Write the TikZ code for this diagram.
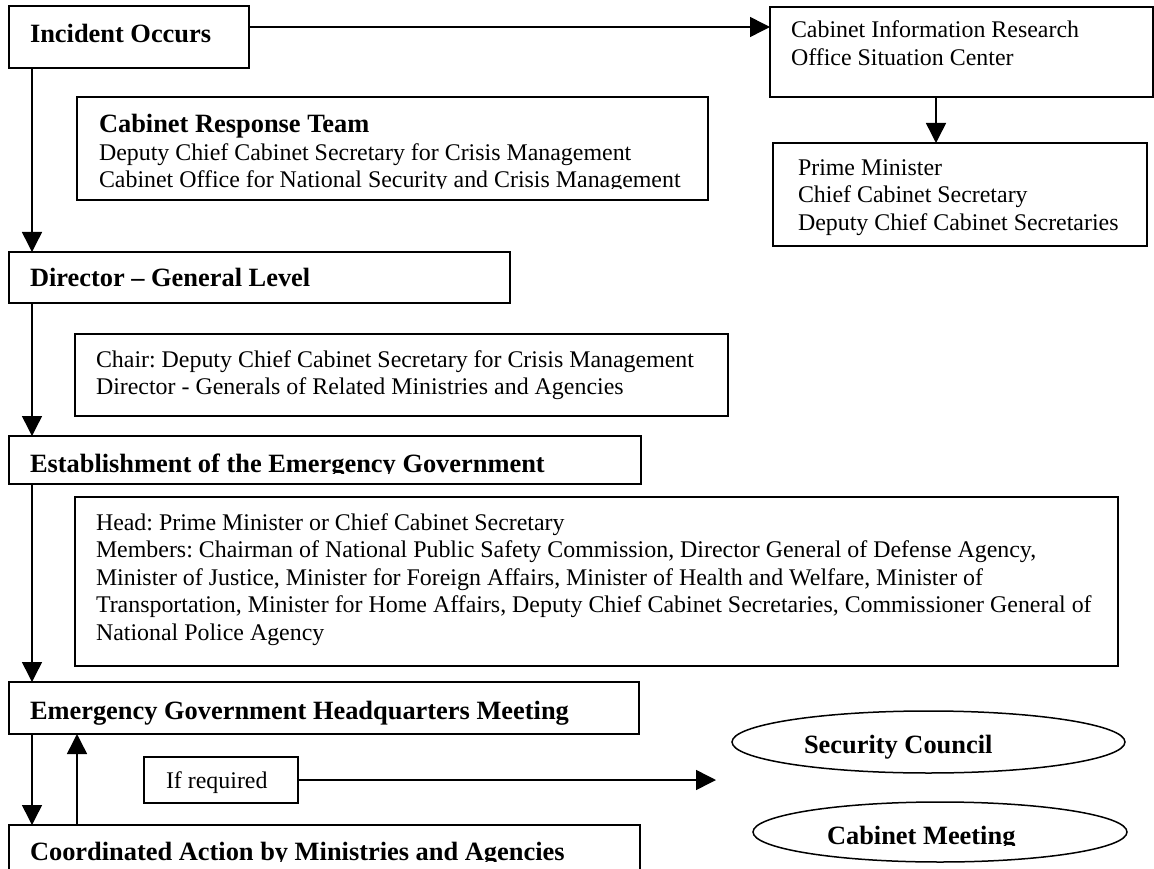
\documentclass[tikz,border=0pt]{standalone}
\usepackage{fontspec}
\setmainfont{Liberation Serif}
\usetikzlibrary{arrows.meta,shapes.geometric}
\frenchspacing
\begin{document}
\begin{tikzpicture}[x=1pt,y=-1pt,
  box/.style={draw, line width=1.5pt, rectangle, inner sep=0pt, outer sep=0pt, anchor=north west},
  oval/.style={draw, line width=1.5pt, ellipse, inner sep=0pt, outer sep=0pt},
  txt/.style={anchor=base west, inner sep=0pt, outer sep=0pt, font=\fontsize{23.9}{27.6}\selectfont},
  btxt/.style={anchor=base west, inner sep=0pt, outer sep=0pt, font=\fontsize{26.4}{30}\selectfont\bfseries},
  arr/.style={line width=1.5pt, -{Triangle[length=20pt,width=20pt]}}]
\clip (0,0) rectangle (1154,869);
\useasboundingbox (0,0) rectangle (1154,869);
\fill[white] (0,0) rectangle (1154,869);

% boxes
\node[box, minimum width=240, minimum height=62] (inc) at (9,6) {};
\node[box, minimum width=383, minimum height=90] (info) at (770,7) {};
\node[box, minimum width=631, minimum height=103] (resp) at (77,97) {};
\node[box, minimum width=374, minimum height=103] (prime) at (773,143) {};
\node[box, minimum width=501, minimum height=51] (dir) at (9,252) {};
\node[box, minimum width=653, minimum height=82] (chair) at (75,334) {};
\node[box, minimum width=632, minimum height=48] (estab) at (9,436) {};
\node[box, minimum width=1043, minimum height=169] (head) at (75,497) {};
\node[box, minimum width=630, minimum height=52] (egh) at (9,682) {};
\node[box, minimum width=154, minimum height=46] (ifr) at (144,757) {};
\node[box, minimum width=631, minimum height=90] (coord) at (9,825) {};
\node[oval, minimum width=393, minimum height=62] (sc) at (928.5,742) {};
\node[oval, minimum width=374, minimum height=60] (cm) at (940,832) {};

% texts
\node[btxt] (tinc) at (30,43) {Incident Occurs};
\node[txt] (tinfo1) at (791,38) {Cabinet Information Research};
\node[txt] (tinfo2) at (791,65.6) {Office Situation Center};
\node[btxt] (tresp1) at (99,133) {Cabinet Response Team};
\node[txt] (tresp2) at (99,161) {Deputy Chief Cabinet Secretary for Crisis Management};
\begin{scope}
\clip (77,97) rectangle (708,189);
\node[txt] (tresp3) at (99,188) {Cabinet Office for National Security and Crisis Management};
\end{scope}
\node[txt] (tprime1) at (798,176) {Prime Minister};
\node[txt] (tprime2) at (798,203) {Chief Cabinet Secretary};
\node[txt] (tprime3) at (798,230) {Deputy Chief Cabinet Secretaries};
\node[btxt] (tdir) at (30,286) {Director -- General Level};
\node[txt] (tchair1) at (96,367) {Chair: Deputy Chief Cabinet Secretary for Crisis Management};
\node[txt] (tchair2) at (96,394) {Director - Generals of Related Ministries and Agencies};
\begin{scope}
\clip (9,436) rectangle (641,473);
\node[btxt] (testab) at (30,472) {Establishment of the Emergency Government};
\end{scope}
\node[txt] (thead1) at (96,530) {Head: Prime Minister or Chief Cabinet Secretary};
\node[txt] (thead2) at (96,557.6) {Members: Chairman of National Public Safety Commission, Director General of Defense Agency,};
\node[txt] (thead3) at (96,585.2) {Minister of Justice, Minister for Foreign Affairs, Minister of Health and Welfare, Minister of};
\node[txt] (thead4) at (96,612.8) {Transportation, Minister for Home Affairs, Deputy Chief Cabinet Secretaries, Commissioner General of};
\node[txt] (thead5) at (96,640.4) {National Police Agency};
\node[btxt] (tegh) at (30,719) {Emergency Government Headquarters Meeting};
\node[txt] (tifr) at (166,788) {If required};
\node[btxt] (tsc) at (804,753) {Security Council};
\begin{scope}
\clip (753,802) rectangle (1127,845);
\node[btxt] (tcm) at (827,844) {Cabinet Meeting};
\end{scope}
\begin{scope}
\clip (9,825) rectangle (640,861);
\node[btxt] (tcoord) at (30,860) {Coordinated Action by Ministries and Agencies};
\end{scope}

% connectors
\coordinate (ya) at (0,27);
\coordinate (xl) at (32,0);
\coordinate (xu) at (77,0);
\coordinate (xi) at (936,0);
\coordinate (tip) at (716,780);
\draw[arr] (inc.east |- ya) -- (info.west |- ya);
\draw[arr] (info.south -| xi) -- (prime.north -| xi);
\draw[arr] (inc.south -| xl) -- (dir.north -| xl);
\draw[arr] (dir.south -| xl) -- (estab.north -| xl);
\draw[arr] (estab.south -| xl) -- (egh.north -| xl);
\draw[arr] (egh.south -| xl) -- (coord.north -| xl);
\draw[arr] (coord.north -| xu) -- (egh.south -| xu);
\draw[arr] (ifr.east) -- (tip);
\end{tikzpicture}
\end{document}
